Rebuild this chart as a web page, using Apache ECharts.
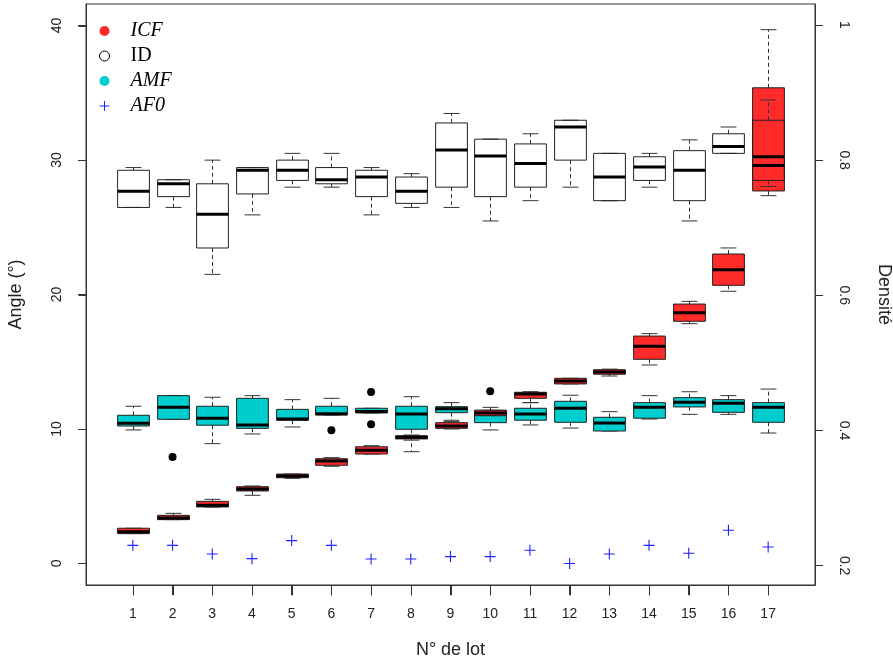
<!DOCTYPE html>
<html>
<head>
<meta charset="utf-8">
<script src="https://cdn.jsdelivr.net/npm/echarts@6/dist/echarts.min.js"></script>
<style>
html,body{margin:0;padding:0;background:#fff;}
#chart{width:893px;height:663px;}
</style>
</head>
<body>
<div id="chart"></div>
<script>
// ---- data ----
const lots = [1,2,3,4,5,6,7,8,9,10,11,12,13,14,15,16,17];

// ICF (Angle, °)
const icfMin = [2.22,3.26,4.20,5.07,6.33,7.23,8.14,9.17,10.00,10.99,11.96,13.35,13.94,14.76,17.83,20.24,27.35];
const icfQ1  = [2.22,3.26,4.20,5.39,6.38,7.30,8.14,9.26,10.05,10.99,12.28,13.35,14.07,15.18,18.01,20.68,27.70];
const icfMed = [2.36,3.38,4.33,5.54,6.51,7.62,8.42,9.38,10.22,11.19,12.60,13.57,14.24,16.15,18.65,21.84,30.25];
const icfQ3  = [2.62,3.58,4.62,5.71,6.65,7.79,8.68,9.50,10.47,11.39,12.73,13.77,14.41,16.91,19.29,23.01,35.37];
const icfMax = [2.62,3.73,4.77,5.76,6.65,7.87,8.76,9.55,10.55,11.39,12.77,13.77,14.45,17.09,19.49,23.46,39.69];

// AMF (Angle, °)
const amfMin = [9.93,10.72,8.91,9.63,10.15,11.04,11.19,8.31,10.65,9.93,10.30,10.07,9.85,10.74,11.09,11.09,9.70];
const amfQ1  = [10.22,10.72,10.28,10.05,10.65,11.04,11.19,9.98,11.21,10.47,10.65,10.50,9.85,10.80,11.64,11.24,10.50];
const amfMed = [10.42,11.61,10.80,10.30,10.74,11.14,11.30,11.12,11.50,11.12,11.12,11.54,10.45,11.61,11.99,11.91,11.61];
const amfQ3  = [11.02,12.48,11.69,12.28,11.46,11.69,11.54,11.69,11.66,11.39,11.54,12.06,10.87,11.96,12.33,12.18,11.96];
const amfMax = [11.69,12.48,12.36,12.48,12.18,12.28,11.54,12.40,11.96,11.61,11.96,12.51,11.29,12.48,12.77,12.48,12.97];
const amfOutLot = [2,6,7,7,10];
const amfOutVal = [7.92,9.90,12.75,10.35,12.80];

// ID (Densité)
const idMin = [0.730,0.730,0.631,0.719,0.760,0.760,0.719,0.730,0.730,0.710,0.740,0.760,0.740,0.760,0.710,0.810,0.761];
const idQ1  = [0.730,0.746,0.670,0.750,0.770,0.765,0.746,0.736,0.760,0.746,0.760,0.800,0.740,0.770,0.740,0.810,0.770];
const idMed = [0.754,0.765,0.720,0.785,0.785,0.771,0.775,0.754,0.815,0.806,0.795,0.849,0.775,0.790,0.785,0.820,0.792];
const idQ3  = [0.785,0.771,0.765,0.789,0.800,0.789,0.785,0.775,0.855,0.831,0.824,0.859,0.810,0.805,0.814,0.839,0.859];
const idMax = [0.789,0.771,0.800,0.789,0.810,0.810,0.789,0.780,0.869,0.831,0.839,0.859,0.810,0.810,0.830,0.849,0.889];

// AF0 (Angle, °)
const af0 = [1.35,1.35,0.71,0.36,1.70,1.35,0.33,0.33,0.51,0.51,0.98,0.00,0.71,1.35,0.76,2.47,1.23];

const xTicks = lots;
const leftTicks = [0,10,20,30,40];
const rightTicks = [0.2,0.4,0.6,0.8,1];

// ---- styles ----
const RED = '#ff2a2a', CYAN = '#00cdcd', BLUE = '#2020ff';
const SANS = 'Liberation Sans', SERIF = 'Liberation Serif';
const PLUS = 'path://M0,4.5H10V5.5H0ZM4.5,0H5.5V10H4.5Z';
const FRAME = '#333';
const X_RANGE = {min:-0.18, max:18.18};
const L_RANGE = {min:-1.6, max:41.6};
const R_RANGE = {min:0.1714, max:1.031};

function boxData(mn,q1,md,q3,mx){
  return lots.map((l,i)=>[l,mn[i],q1[i],md[i],q3[i],mx[i]]);
}

function boxRenderer(fill){
  return function(params, api){
    const x = api.value(0);
    const pMin = api.coord([x, api.value(1)]);
    const pQ1 = api.coord([x, api.value(2)]);
    const pMed = api.coord([x, api.value(3)]);
    const pQ3 = api.coord([x, api.value(4)]);
    const pMax = api.coord([x, api.value(5)]);
    const w = api.size([0.8, 0])[0];
    const cx = Math.round(pMin[0]) + 0.5;
    const half = w/2, cap = w/4;
    const wStyle = {stroke:'#333', lineWidth:1, lineDash:[4,3], fill:null};
    const cStyle = {stroke:'#333', lineWidth:1, fill:null};
    const children = [
      {type:'line', shape:{x1:cx,y1:pQ3[1],x2:cx,y2:pMax[1]}, style:wStyle},
      {type:'line', shape:{x1:cx,y1:pQ1[1],x2:cx,y2:pMin[1]}, style:wStyle},
      {type:'line', shape:{x1:cx-cap,y1:pMax[1],x2:cx+cap,y2:pMax[1]}, style:cStyle},
      {type:'line', shape:{x1:cx-cap,y1:pMin[1],x2:cx+cap,y2:pMin[1]}, style:cStyle},
      {type:'rect', shape:{x:cx-half,y:pQ3[1],width:w,height:pQ1[1]-pQ3[1]},
        style:{fill:fill, stroke:'#222', lineWidth:1}},
      {type:'line', shape:{x1:cx-half,y1:pMed[1],x2:cx+half,y2:pMed[1]},
        style:{stroke:'#000', lineWidth:3, fill:null}}
    ];
    return {type:'group', children};
  };
}

// Tick marks of the bottom and left axes. Each datum is a full (x, y) pair on the
// axes' own scales: a tick value paired with the opposite axis' minimum (the frame edge).
function xTickRenderer(params, api){
  const p = api.coord([api.value(0), api.value(1)]);
  const x = Math.round(p[0]) + 0.5;
  const y0 = Math.round(p[1]) + 0.5;
  return {type:'line', silent:true, shape:{x1:x, y1:y0, x2:x, y2:y0 + 10},
          style:{stroke:FRAME, lineWidth:1}};
}
function yTickRenderer(params, api){
  const p = api.coord([api.value(0), api.value(1)]);
  const x0 = Math.round(p[0]) + 0.5;
  const y = Math.round(p[1]) + 0.5;
  return {type:'line', silent:true, shape:{x1:x0 - 8, y1:y, x2:x0, y2:y},
          style:{stroke:FRAME, lineWidth:1}};
}

const chart = echarts.init(document.getElementById('chart'), null, {renderer:'canvas'});
chart.setOption({
  backgroundColor:'#fff',
  animation:false,
  grid:{left:86, right:78, top:4, bottom:78, show:true, borderColor:FRAME, borderWidth:1,
        backgroundColor:'transparent', containLabel:false, outerBoundsMode:'none'},
  legend:{
    orient:'vertical', left:99, top:21, padding:0, itemGap:5,
    itemWidth:10, itemHeight:10, selectedMode:false,
    data:[
      {name:'ICF', icon:'circle', itemStyle:{color:RED, borderWidth:0}},
      {name:'ID', icon:'circle', itemStyle:{color:'#fff', borderColor:'#000', borderWidth:1}},
      {name:'AMF', icon:'circle', itemStyle:{color:CYAN, borderWidth:0}},
      {name:'AF0', icon:PLUS, itemStyle:{color:BLUE, borderWidth:0}}
    ],
    formatter:function(name){ return name==='ID' ? '{n|ID}' : '{i|'+name+'}'; },
    textStyle:{
      rich:{
        i:{fontFamily:SERIF, fontStyle:'italic', fontSize:20, color:'#000', lineHeight:22, padding:[0,0,0,16]},
        n:{fontFamily:SERIF, fontSize:20, color:'#000', lineHeight:22, padding:[0,0,0,16]}
      }
    }
  },
  xAxis:{
    type:'value', min:X_RANGE.min, max:X_RANGE.max, position:'bottom',
    name:'N° de lot', nameLocation:'middle', nameGap:56,
    nameTextStyle:{fontFamily:SANS, fontSize:18, color:'#222'},
    axisLine:{show:true, onZero:false, lineStyle:{color:FRAME, width:1}},
    axisTick:{show:true, inside:false, length:10, customValues:xTicks, lineStyle:{color:FRAME}},
    axisLabel:{customValues:xTicks, fontFamily:SANS, fontSize:14, color:'#222', margin:22},
    splitLine:{show:false}
  },
  yAxis:[
    {
      type:'value', min:L_RANGE.min, max:L_RANGE.max, position:'left',
      name:'Angle (°)', nameLocation:'middle', nameGap:61, nameRotate:90,
      nameTextStyle:{fontFamily:SANS, fontSize:18, color:'#222'},
      axisLine:{show:true, onZero:false, lineStyle:{color:FRAME, width:1}},
      axisTick:{show:true, inside:false, length:8, customValues:leftTicks, lineStyle:{color:FRAME}},
      axisLabel:{customValues:leftTicks, rotate:90, fontFamily:SANS, fontSize:14, color:'#222', margin:22},
      splitLine:{show:false}
    },
    {
      type:'value', min:R_RANGE.min, max:R_RANGE.max, position:'right',
      name:'Densité', nameLocation:'middle', nameGap:60, nameRotate:-90,
      nameTextStyle:{fontFamily:SANS, fontSize:18, color:'#222'},
      axisLine:{show:true, onZero:false, lineStyle:{color:FRAME, width:1}},
      axisTick:{show:true, inside:false, length:8, customValues:rightTicks, lineStyle:{color:FRAME}},
      axisLabel:{customValues:rightTicks, rotate:-90, fontFamily:SANS, fontSize:14, color:'#222', margin:22},
      splitLine:{show:false}
    }
  ],
  series:[
    {name:'AMF', type:'custom', xAxisIndex:0, yAxisIndex:0, renderItem:boxRenderer(CYAN),
      encode:{x:0, y:[1,2,3,4,5]}, data:boxData(amfMin,amfQ1,amfMed,amfQ3,amfMax), z:2},
    {name:'ICF', type:'custom', xAxisIndex:0, yAxisIndex:0, renderItem:boxRenderer(RED),
      encode:{x:0, y:[1,2,3,4,5]}, data:boxData(icfMin,icfQ1,icfMed,icfQ3,icfMax), z:3},
    {name:'ID', type:'custom', xAxisIndex:0, yAxisIndex:1, renderItem:boxRenderer('rgba(255,255,255,0)'),
      encode:{x:0, y:[1,2,3,4,5]}, data:boxData(idMin,idQ1,idMed,idQ3,idMax), z:4},
    {name:'AF0', type:'scatter', xAxisIndex:0, yAxisIndex:0, symbol:PLUS, symbolSize:11,
      itemStyle:{color:BLUE, opacity:1}, data:lots.map((l,i)=>[l,af0[i]]), z:5},
    {name:'AMF aberrants', type:'scatter', xAxisIndex:0, yAxisIndex:0, symbol:'circle', symbolSize:8,
      itemStyle:{color:'#000', opacity:1}, data:amfOutLot.map((l,i)=>[l,amfOutVal[i]]), z:6},
    {name:'graduations x', type:'custom', xAxisIndex:0, yAxisIndex:0, silent:true, clip:false,
      renderItem:xTickRenderer, encode:{x:0, y:1},
      data:xTicks.map(v=>[v, L_RANGE.min]), z:20},
    {name:'graduations y', type:'custom', xAxisIndex:0, yAxisIndex:0, silent:true, clip:false,
      renderItem:yTickRenderer, encode:{x:0, y:1},
      data:leftTicks.map(v=>[X_RANGE.min, v]), z:20}
  ]
});
</script>
</body>
</html>
